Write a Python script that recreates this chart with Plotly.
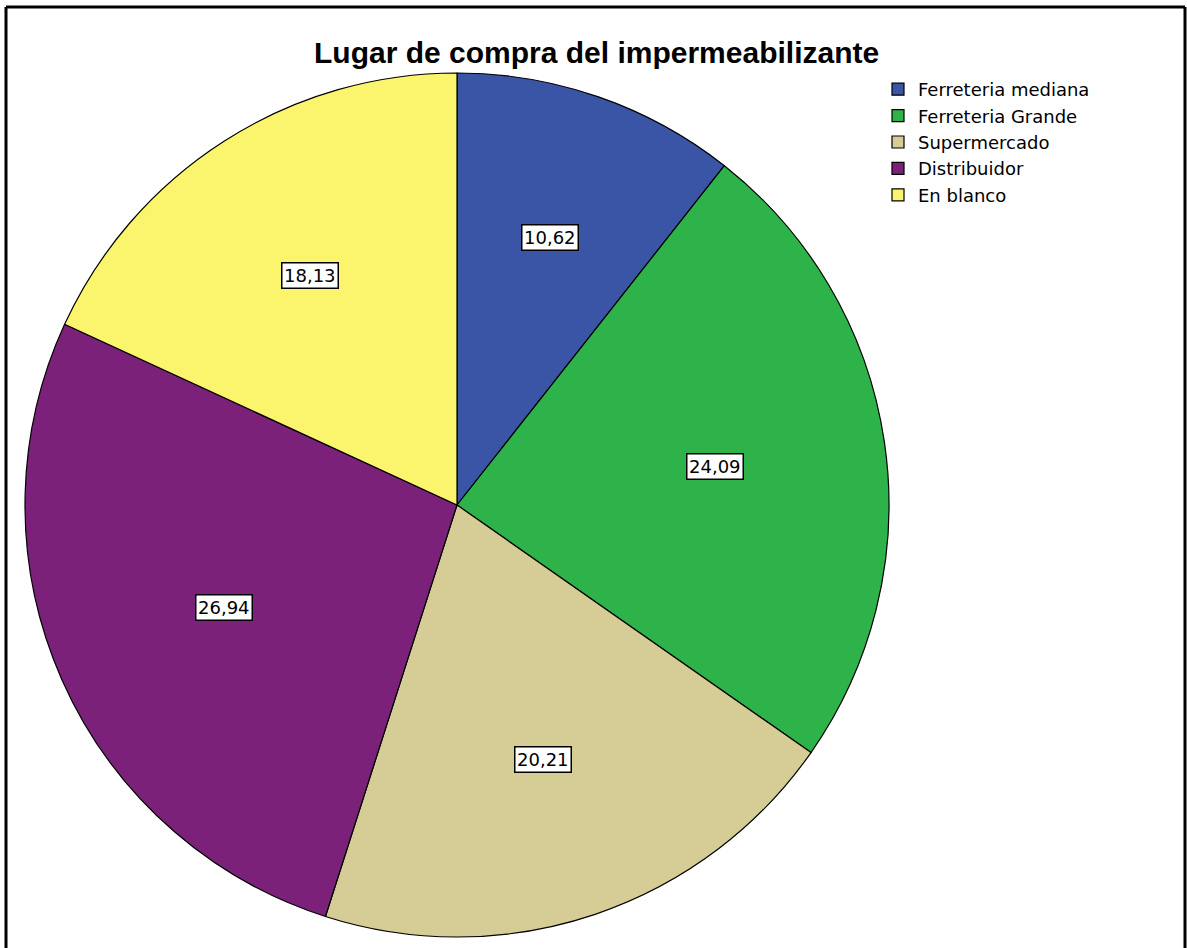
import math
import plotly.graph_objects as go

categories = ["Ferreteria mediana", "Ferreteria Grande", "Supermercado", "Distribuidor", "En blanco"]
values = [10.62, 24.09, 20.21, 26.94, 18.13]
value_labels = ["10,62", "24,09", "20,21", "26,94", "18,13"]
colors = ["#3A55A6", "#2EB34A", "#D5CD95", "#7B2179", "#FBF56E"]

W, H = 1187, 948
cx, cy, r = 457, 505, 432  # pie center/radius in pixels

fig = go.Figure(go.Pie(
    labels=categories,
    values=values,
    sort=False,
    direction="clockwise",
    rotation=0,
    textinfo="none",
    hoverinfo="label+value",
    marker=dict(colors=colors, line=dict(color="#000000", width=1.2)),
    domain=dict(x=[(cx - r) / W, (cx + r) / W], y=[(H - cy - r) / H, (H - cy + r) / H]),
))

# value labels at the centroid of each slice
total = sum(values)
cum = 0.0
annotations = []
for v, lab in zip(values, value_labels):
    half = v / total * math.pi
    mid = (cum + v / 2) / total * 2 * math.pi
    cum += v
    d = (2.0 / 3.0) * r * math.sin(half) / half
    px = cx + d * math.sin(mid)
    py = cy - d * math.cos(mid)
    annotations.append(dict(
        x=px / W, y=1 - py / H, xref="paper", yref="paper",
        xanchor="center", yanchor="middle",
        text=lab, showarrow=False,
        font=dict(family="DejaVu Sans, Verdana, sans-serif", size=18, color="#000000"),
        bgcolor="#FFFFFF", bordercolor="#000000", borderwidth=1.5, borderpad=1.5,
    ))

annotations.append(dict(
    x=597 / W, y=1 - 52 / H, xref="paper", yref="paper",
    xanchor="center", yanchor="middle",
    text="<b>Lugar de compra del impermeabilizante</b>", showarrow=False,
    font=dict(family="Liberation Sans, Arial, sans-serif", size=30, color="#000000"),
))

shapes = [
    dict(type="line", xref="paper", yref="paper", x0=6 / W, x1=6 / W, y0=0, y1=1 - 7 / H,
         line=dict(color="#000000", width=3)),
    dict(type="line", xref="paper", yref="paper", x0=6 / W, x1=1185 / W, y0=1 - 7 / H, y1=1 - 7 / H,
         line=dict(color="#000000", width=3)),
    dict(type="line", xref="paper", yref="paper", x0=1185 / W, x1=1185 / W, y0=0, y1=1 - 7 / H,
         line=dict(color="#000000", width=3)),
]

fig.update_layout(
    width=W, height=H,
    margin=dict(l=0, r=0, t=0, b=0),
    paper_bgcolor="#FFFFFF", plot_bgcolor="#FFFFFF",
    showlegend=True,
    legend=dict(
        x=878 / W, y=1 - 71 / H, xanchor="left", yanchor="top",
        font=dict(family="DejaVu Sans, Verdana, sans-serif", size=18, color="#000000"),
        bgcolor="rgba(0,0,0,0)", tracegroupgap=0, itemwidth=30,
    ),
    annotations=annotations,
    shapes=shapes,
)

fig.write_html("out.html", config={"displayModeBar": False},
               post_script="document.body.style.margin='0';document.body.style.overflow='hidden';")
